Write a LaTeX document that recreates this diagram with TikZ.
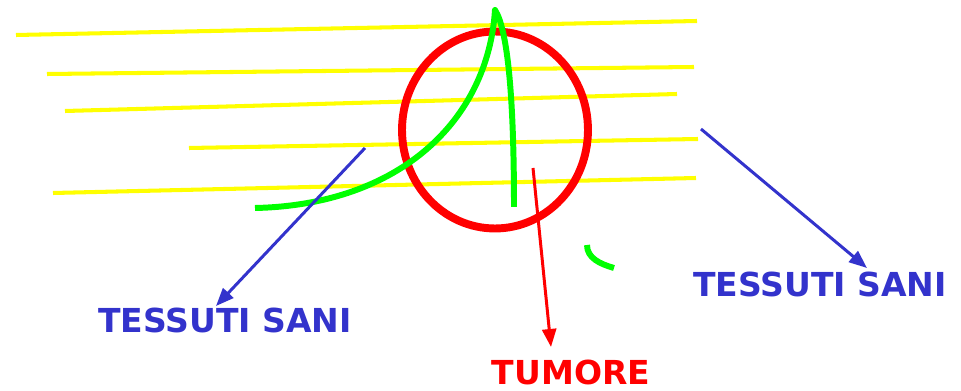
\documentclass[tikz,border=0pt]{standalone}
\usepackage{fontspec}
\setmainfont{DejaVu Sans}
\usepackage{xcolor}
\definecolor{colHealthy}{RGB}{51,51,204}
\definecolor{colTumor}{RGB}{255,0,0}
\definecolor{colBeam}{RGB}{255,255,0}
\definecolor{colIso}{RGB}{0,255,0}
\usetikzlibrary{arrows.meta, positioning}

\begin{document}
\begin{tikzpicture}[
				x=0.02cm, y=-0.02cm,
				every node/.style={font=\fontsize{18.8}{20}\selectfont\bfseries, inner sep=0pt},
				beam/.style={colBeam, line width=2.3pt},
				isoline/.style={colIso, line width=3.4pt, line join=round},
				pointer/.style={line width=1.7pt, -{Triangle[length=0.36cm, width=0.28cm]}}
			]
				\useasboundingbox (0,0) rectangle (961,391);
				% fasci
				\draw[beam] (16,35) -- (697,21);
				\draw[beam] (47,74) -- (694,67);
				\draw[beam] (65,111) -- (677,94);
				\draw[beam] (189,148) -- (698,139);
				\draw[beam] (53,193) -- (696,178);
				% tumore
				\draw[colTumor, line width=4.5pt] (495,130) ellipse [x radius=1.86cm, y radius=1.97cm];
				% isodosi
				\draw[isoline] (255,208) .. controls (400,205) and (488,120) .. (495,10)
				     .. controls (508,30) and (514,100) .. (514,207);
				\draw[isoline] (587,245) .. controls (587,258) and (600,264) .. (614,268);
				% etichette
				\node[colHealthy, anchor=base] (sanil) at (225,333) {TESSUTI SANI};
				\node[colTumor, anchor=base] (tum) at (571,385) {TUMORE};
				\node[colHealthy, anchor=base] (sanir) at (820,297) {TESSUTI SANI};
				\coordinate (srcl) at (365,148);
				\coordinate (tipl) at (216,306);
				\coordinate (srct) at (533,168);
				\coordinate (tipt) at (551,347);
				\coordinate (srcr) at (701,129);
				\coordinate (tipr) at (867,268);
				\draw[pointer, colHealthy] (srcl) -- (tipl);
				\draw[pointer, colTumor] (srct) -- (tipt);
				\draw[pointer, colHealthy] (srcr) -- (tipr);
			\end{tikzpicture}
\end{document}
